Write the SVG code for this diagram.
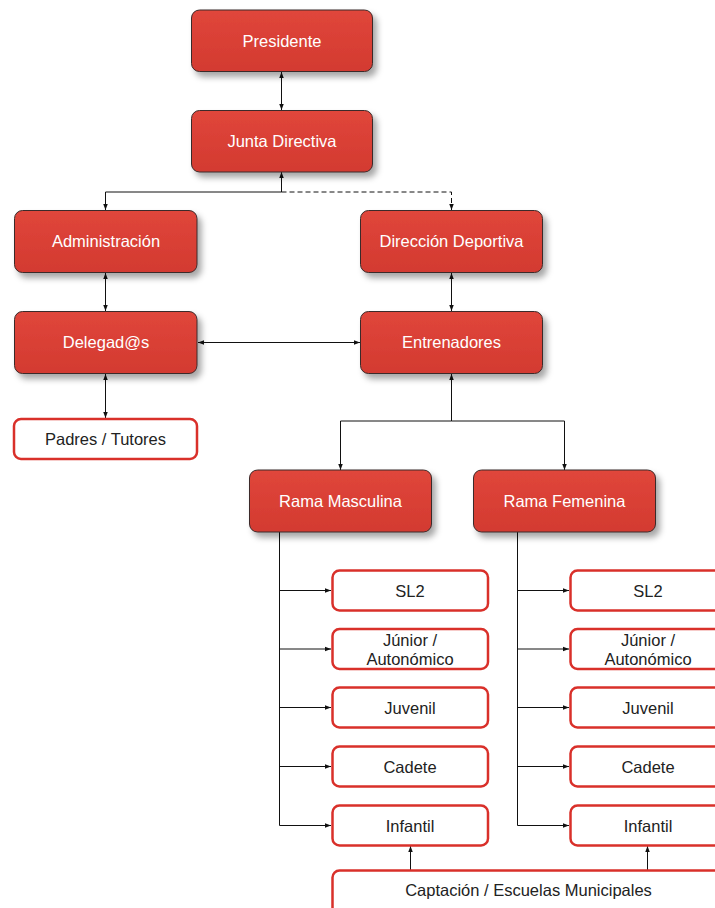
<svg xmlns="http://www.w3.org/2000/svg" width="715" height="908" viewBox="0 0 715 908">
<defs>
<linearGradient id="redg" x1="0" y1="0" x2="0" y2="1">
<stop offset="0" stop-color="#e0463b"/>
<stop offset="1" stop-color="#d33a30"/>
</linearGradient>
<filter id="sh" x="-10%" y="-10%" width="130%" height="140%">
<feDropShadow dx="4" dy="5" stdDeviation="3" flood-color="#000" flood-opacity="0.35"/>
</filter>
<marker id="ah" viewBox="0 0 8 8" refX="8" refY="4" markerWidth="6" markerHeight="6" orient="auto-start-reverse" markerUnits="userSpaceOnUse">
<path d="M0,1 L8,4 L0,7 Z" fill="#111"/>
</marker>
</defs>
<style>
.r{fill:url(#redg);stroke:#3b2b2b;stroke-width:1;filter:url(#sh)}
.w{fill:#fff;stroke:#d9302a;stroke-width:2.5}
.tw{font-family:"Liberation Sans",Arial,sans-serif;font-size:16.5px;fill:#fff;text-anchor:middle}
.tb{font-family:"Liberation Sans",Arial,sans-serif;font-size:16.5px;fill:#222;text-anchor:middle}
.c{fill:none;stroke:#111;stroke-width:1}
</style>
<rect width="715" height="908" fill="#fff"/>
<g id="connectors">
<line class="c" x1="281.5" y1="72" x2="281.5" y2="110" marker-start="url(#ah)" marker-end="url(#ah)"/>
<polyline class="c" points="281.5,172 281.5,192" marker-start="url(#ah)"/>
<polyline class="c" points="281.5,192 105.5,192 105.5,210" marker-end="url(#ah)"/>
<polyline class="c" points="281.5,192 451.5,192 451.5,210" stroke-dasharray="5,3" marker-end="url(#ah)"/>
<line class="c" x1="105.5" y1="273" x2="105.5" y2="311" marker-start="url(#ah)" marker-end="url(#ah)"/>
<line class="c" x1="451.5" y1="273" x2="451.5" y2="311" marker-start="url(#ah)" marker-end="url(#ah)"/>
<line class="c" x1="198" y1="342.5" x2="360" y2="342.5" marker-start="url(#ah)" marker-end="url(#ah)"/>
<line class="c" x1="105.5" y1="374" x2="105.5" y2="418" marker-start="url(#ah)" marker-end="url(#ah)"/>
<polyline class="c" points="451.5,374 451.5,421" marker-start="url(#ah)"/>
<polyline class="c" points="451.5,421 340.5,421 340.5,470" marker-end="url(#ah)"/>
<polyline class="c" points="451.5,421 564.5,421 564.5,470" marker-end="url(#ah)"/>
<line class="c" x1="279.5" y1="532" x2="279.5" y2="825.5"/>
<line class="c" x1="279.5" y1="590.5" x2="331" y2="590.5" marker-end="url(#ah)"/>
<line class="c" x1="279.5" y1="649" x2="331" y2="649" marker-end="url(#ah)"/>
<line class="c" x1="279.5" y1="707.5" x2="331" y2="707.5" marker-end="url(#ah)"/>
<line class="c" x1="279.5" y1="766.5" x2="331" y2="766.5" marker-end="url(#ah)"/>
<line class="c" x1="279.5" y1="825.5" x2="331" y2="825.5" marker-end="url(#ah)"/>
<line class="c" x1="517.5" y1="532" x2="517.5" y2="825.5"/>
<line class="c" x1="517.5" y1="590.5" x2="569" y2="590.5" marker-end="url(#ah)"/>
<line class="c" x1="517.5" y1="649" x2="569" y2="649" marker-end="url(#ah)"/>
<line class="c" x1="517.5" y1="707.5" x2="569" y2="707.5" marker-end="url(#ah)"/>
<line class="c" x1="517.5" y1="766.5" x2="569" y2="766.5" marker-end="url(#ah)"/>
<line class="c" x1="517.5" y1="825.5" x2="569" y2="825.5" marker-end="url(#ah)"/>
<line class="c" x1="410.5" y1="870" x2="410.5" y2="846" marker-end="url(#ah)"/>
<line class="c" x1="647.5" y1="870" x2="647.5" y2="846" marker-end="url(#ah)"/>
</g>
<g id="presidente"><rect class="r" x="191.5" y="10" width="181" height="61.5" rx="8"/><text class="tw" x="282" y="47">Presidente</text></g>
<g id="junta"><rect class="r" x="191.5" y="110.5" width="181" height="61.5" rx="8"/><text class="tw" x="282" y="147">Junta Directiva</text></g>
<g id="administracion"><rect class="r" x="14.5" y="210.5" width="182.5" height="62" rx="8"/><text class="tw" x="106" y="247">Administración</text></g>
<g id="direccion"><rect class="r" x="360.5" y="210.5" width="182" height="62" rx="8"/><text class="tw" x="451.5" y="247">Dirección Deportiva</text></g>
<g id="delegados"><rect class="r" x="14.5" y="311.5" width="182.5" height="62" rx="8"/><text class="tw" x="106" y="348">Delegad@s</text></g>
<g id="entrenadores"><rect class="r" x="360.5" y="311.5" width="182" height="62" rx="8"/><text class="tw" x="451.5" y="348">Entrenadores</text></g>
<g id="padres"><rect class="w" x="14" y="419" width="183" height="40" rx="7"/><text class="tb" x="105.5" y="445">Padres / Tutores</text></g>
<g id="rama-masculina"><rect class="r" x="249.5" y="470" width="182" height="62" rx="8"/><text class="tw" x="340.5" y="507">Rama Masculina</text></g>
<g id="rama-femenina"><rect class="r" x="473.5" y="470" width="182" height="62" rx="8"/><text class="tw" x="564.5" y="507">Rama Femenina</text></g>
<g id="m-sl2"><rect class="w" x="332.5" y="570.5" width="155.5" height="40" rx="7"/><text class="tb" x="410" y="596.5">SL2</text></g>
<g id="m-junior"><rect class="w" x="332.5" y="629" width="155.5" height="40" rx="7"/><text class="tb" x="410" y="645.5">Júnior /</text><text class="tb" x="410" y="665">Autonómico</text></g>
<g id="m-juvenil"><rect class="w" x="332.5" y="687.5" width="155.5" height="40" rx="7"/><text class="tb" x="410" y="713.5">Juvenil</text></g>
<g id="m-cadete"><rect class="w" x="332.5" y="746.5" width="155.5" height="40" rx="7"/><text class="tb" x="410" y="772.5">Cadete</text></g>
<g id="m-infantil"><rect class="w" x="332.5" y="805.5" width="155.5" height="40" rx="7"/><text class="tb" x="410" y="831.5">Infantil</text></g>
<g id="f-sl2"><rect class="w" x="570.5" y="570.5" width="155.5" height="40" rx="7"/><text class="tb" x="648" y="596.5">SL2</text></g>
<g id="f-junior"><rect class="w" x="570.5" y="629" width="155.5" height="40" rx="7"/><text class="tb" x="648" y="645.5">Júnior /</text><text class="tb" x="648" y="665">Autonómico</text></g>
<g id="f-juvenil"><rect class="w" x="570.5" y="687.5" width="155.5" height="40" rx="7"/><text class="tb" x="648" y="713.5">Juvenil</text></g>
<g id="f-cadete"><rect class="w" x="570.5" y="746.5" width="155.5" height="40" rx="7"/><text class="tb" x="648" y="772.5">Cadete</text></g>
<g id="f-infantil"><rect class="w" x="570.5" y="805.5" width="155.5" height="40" rx="7"/><text class="tb" x="648" y="831.5">Infantil</text></g>
<g id="captacion"><rect class="w" x="332.5" y="870.5" width="392" height="50" rx="7"/><text class="tb" x="528.5" y="896">Captación / Escuelas Municipales</text></g>
</svg>
